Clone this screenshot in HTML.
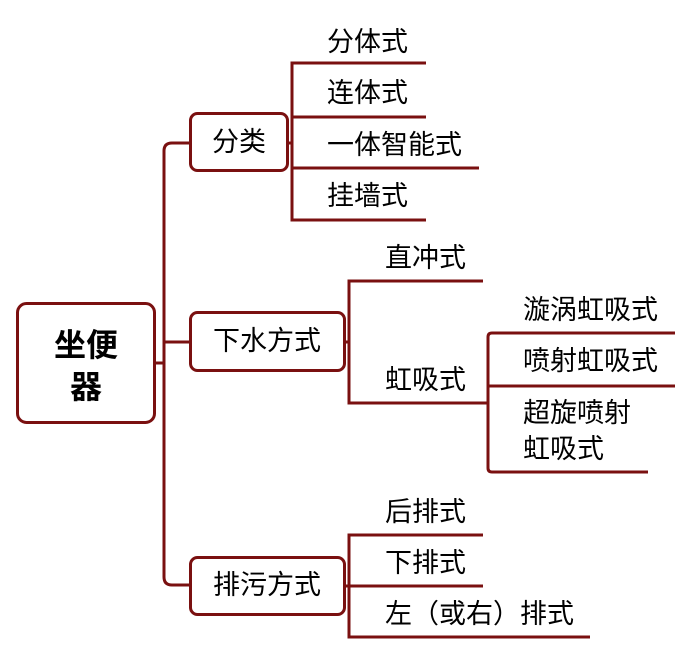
<!DOCTYPE html>
<html><head><meta charset="utf-8"><style>
html,body{margin:0;padding:0;background:#fff;}
svg{display:block;}
text{font-family:"Liberation Sans","Noto Sans CJK SC","WenQuanYi Zen Hei",sans-serif;font-size:27px;fill:#000;dominant-baseline:central;}
</style></head><body>
<svg width="693" height="655" viewBox="0 0 693 655" xmlns="http://www.w3.org/2000/svg">
<g fill="none" stroke="#7a1010" stroke-width="3">
<path d="M190 143 H172 Q164 143 164 151 V577 Q164 585 172 585 H190"/>
<path d="M164 342 H190"/>
<path d="M155 363 H164"/>
<rect x="17.5" y="303.5" width="137" height="119" rx="9"/>
<rect x="190.5" y="113.5" width="97" height="57" rx="7"/>
<rect x="190.5" y="312.5" width="154" height="58" rx="7"/>
<rect x="190.5" y="557.5" width="154" height="57" rx="7"/>
<path d="M288 143 H292"/>
<path d="M426 63 H292 V220 H426"/>
<path d="M292 117 H426"/>
<path d="M292 168 H479"/>
<path d="M345 342 H349"/>
<path d="M483 281 H349 V403 H488"/>
<path d="M675 333 H492 Q488 333 488 337 V468 Q488 472 492 472 H648"/>
<path d="M488 386 H675"/>
<path d="M345 586 H349"/>
<path d="M483 535 H349 V637 H590"/>
<path d="M349 586 H483"/>
</g>
<text x="86" y="345" text-anchor="middle" style="font-size:32px;font-weight:bold">坐便</text>
<text x="86" y="387" text-anchor="middle" style="font-size:32px;font-weight:bold">器</text>
<text x="239" y="142" text-anchor="middle">分类</text>
<text x="267" y="341" text-anchor="middle">下水方式</text>
<text x="267" y="585" text-anchor="middle">排污方式</text>
<text x="327" y="42">分体式</text>
<text x="327" y="93">连体式</text>
<text x="327" y="145">一体智能式</text>
<text x="327" y="196">挂墙式</text>
<text x="385" y="258">直冲式</text>
<text x="385" y="380">虹吸式</text>
<text x="523" y="310">漩涡虹吸式</text>
<text x="523" y="361">喷射虹吸式</text>
<text x="523" y="413">超旋喷射</text>
<text x="523" y="449">虹吸式</text>
<text x="385" y="512">后排式</text>
<text x="385" y="563">下排式</text>
<text x="385" y="614">左（或右）排式</text>
</svg>
</body></html>
